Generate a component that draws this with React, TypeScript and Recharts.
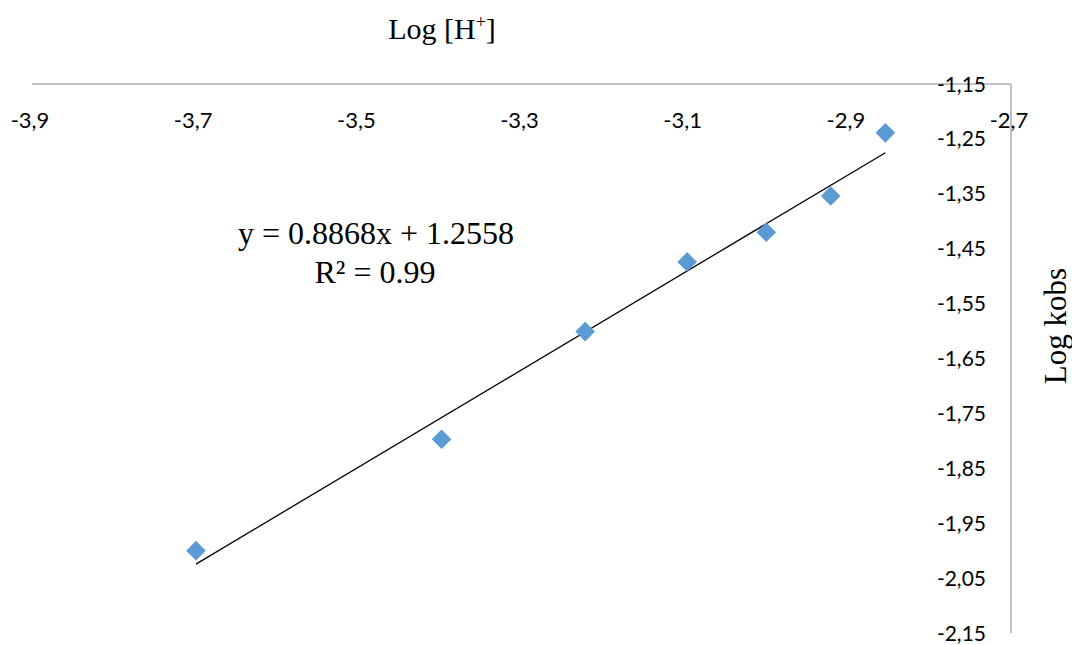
import { ScatterChart, Scatter, XAxis, YAxis } from "recharts";

// Log [H+] vs Log kobs
const logH = [-3.699, -3.398, -3.222, -3.097, -3.0, -2.921, -2.854];
const logKobs = [-2.0, -1.797, -1.601, -1.474, -1.42, -1.354, -1.239];

const xTicks = [-3.9, -3.7, -3.5, -3.3, -3.1, -2.9, -2.7];
const yTicks = [-1.15, -1.25, -1.35, -1.45, -1.55, -1.65, -1.75, -1.85, -1.95, -2.05, -2.15];

// linear trendline as shown on the chart
const slope = 0.8868;
const intercept = 1.2558;

const points = logH.map((x, i) => ({ x, y: logKobs[i] }));
const trendX = [logH[0], logH[logH.length - 1]];
const trend = trendX.map((x) => ({ x, y: slope * x + intercept }));

const comma = (v: number, d: number) => v.toFixed(d).replace(".", ",");

const AXIS = "#ADADAD";
const TICK_FONT = "Lato, 'Open Sans', sans-serif";
const SERIF = "'Liberation Serif', 'Times New Roman', serif";

const Diamond = (props: any) => {
  const { cx, cy } = props;
  const r = 9.8;
  return (
    <polygon
      points={`${cx},${cy - r} ${cx + r},${cy} ${cx},${cy + r} ${cx - r},${cy}`}
      fill="#5B9BD5"
    />
  );
};

const XTick = (props: any) => {
  const { x, y, payload } = props;
  return (
    <text x={x - 2} y={y + 43} textAnchor="middle" dominantBaseline="central"
      fontFamily={TICK_FONT} fontSize={22} fill="#000">
      {comma(payload.value, 1)}
    </text>
  );
};

const YTick = (props: any) => {
  const { x, y, payload } = props;
  return (
    <text x={x - 33} y={y - 1} textAnchor="end" dominantBaseline="central"
      fontFamily={TICK_FONT} fontSize={21} fill="#000">
      {comma(payload.value, 2)}
    </text>
  );
};

export default function App() {
  return (
    <div style={{ position: "absolute", left: 0, top: 0, width: 1072, height: 645, background: "#fff" }}>
      <ScatterChart width={1072} height={645} margin={{ top: 54, right: 1, left: 32, bottom: 12 }}
        style={{ overflow: "visible" }}>
        <XAxis type="number" dataKey="x" orientation="top" height={30}
          domain={[-3.9, -2.7]} ticks={xTicks} tickLine={false}
          axisLine={{ stroke: AXIS, strokeWidth: 1.5 }} tick={<XTick />} allowDataOverflow />
        <YAxis type="number" dataKey="y" orientation="right" width={60}
          domain={[-2.15, -1.15]} ticks={yTicks} tickLine={false}
          axisLine={{ stroke: AXIS, strokeWidth: 1.5 }} tick={<YTick />} allowDataOverflow />
        <Scatter data={trend} line={{ stroke: "#000", strokeWidth: 1.3 }}
          shape={() => <g />} isAnimationActive={false} />
        <Scatter data={points} shape={<Diamond />} isAnimationActive={false} />
        <text x={442} y={39} textAnchor="middle" fontFamily={SERIF} fontSize={30} fill="#000">
          Log [H<tspan dy={-11} fontSize={18}>+</tspan><tspan dy={11}>]</tspan>
        </text>
        <text x={1066} y={326} transform="rotate(-90 1066 326)" textAnchor="middle"
          fontFamily={SERIF} fontSize={31} fill="#000">
          Log kobs
        </text>
        <text x={376} y={244} textAnchor="middle" fontFamily={SERIF} fontSize={32} fill="#000">
          y = 0.8868x + 1.2558
        </text>
        <text x={375} y={283} textAnchor="middle" fontFamily={SERIF} fontSize={32} fill="#000">
          R² = 0.99
        </text>
      </ScatterChart>
    </div>
  );
}
